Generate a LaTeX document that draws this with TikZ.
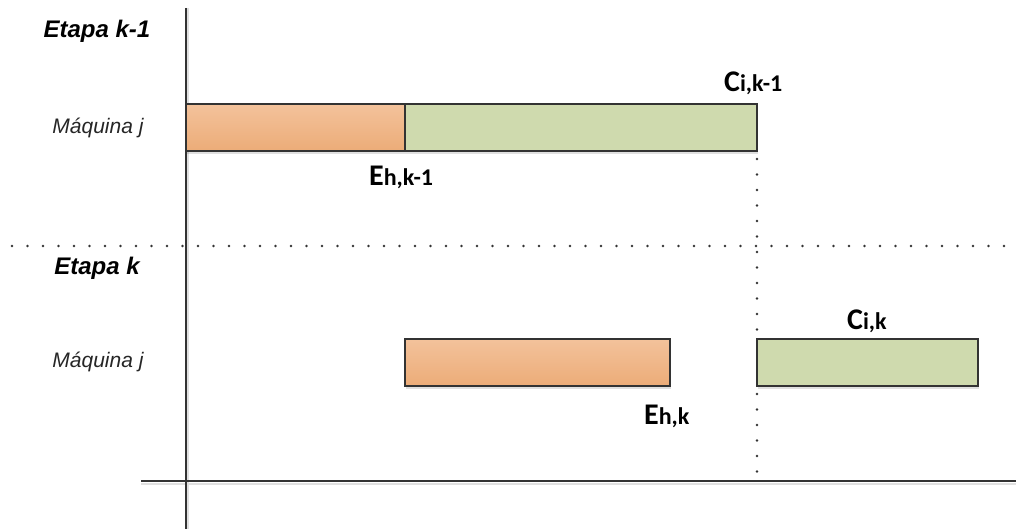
\documentclass[tikz,border=0pt]{standalone}
\usepackage{fontspec}
\setmainfont{Liberation Sans}
\newfontfamily\calib{Carlito}
\usetikzlibrary{shadows}
\newcommand\timelab[2]{{\calib\bfseries\fontsize{30}{30}\selectfont #1}{\calib\bfseries\fontsize{24}{24}\selectfont #2}}
\definecolor{barline}{HTML}{333333}
\definecolor{orangetop}{HTML}{F3C29B}
\definecolor{orangebot}{HTML}{ECAC78}
\definecolor{greenfill}{HTML}{CFDAAE}
\begin{document}
\begin{tikzpicture}[x=1pt,y=-1pt,
  axis/.style={line width=2.2pt, draw=barline},
  axisshadow/.style={line width=2pt, draw=black!12},
  dotline/.style={line width=2.6pt, draw=black!80, dash pattern=on 0pt off 15.5pt, line cap=round},
  bar/.style={draw=barline, line width=2pt, minimum height=47pt, inner sep=0pt, outer sep=0pt,
    anchor=north west, drop shadow={shadow xshift=1pt, shadow yshift=-3pt, opacity=0.12, fill=black}},
  obar/.style={bar, top color=orangetop, bottom color=orangebot},
  gbar/.style={bar, fill=greenfill},
  stage/.style={font=\fontsize{24}{24}\selectfont\bfseries\itshape, inner sep=0pt},
  machine/.style={font=\fontsize{21}{21}\selectfont\itshape, text=black!85, inner sep=0pt},
  tlab/.style={anchor=base west, inner sep=0pt}
]
\useasboundingbox (0,0) rectangle (1016,529);

% axis end points and guide points
\coordinate (vtop) at (186,8);
\coordinate (vbot) at (186,529);
\coordinate (hleft) at (141,481);
\coordinate (hright) at (1016,481);
\coordinate (sepl) at (12,246);
\coordinate (sepr) at (1016,246);
\coordinate (cbot) at (757,481);

% soft shadows of the axes, kept behind everything
\draw[axisshadow] ([xshift=2pt]vtop) -- ([xshift=2pt]vbot);
\draw[axisshadow] ([yshift=-3pt]hleft) -- ([yshift=-3pt]hright);

% stage separator
\draw[dotline] (sepl) -- (sepr);

% stage k-1 bars
\node[obar, minimum width=219pt] (o1) at (186,104) {};
\node[gbar, minimum width=352pt] (g1) at (405,104) {};
% stage k bars
\node[obar, minimum width=265pt] (o2) at (405,339) {};
\node[gbar, minimum width=221pt] (g2) at (757,339) {};

% completion time guide
\draw[dotline] ([yshift=-8pt]g1.south east) -- (g2.north west);
\draw[dotline] ([yshift=-8pt]g2.south west) -- (cbot);

% axes
\draw[axis] (vtop) -- (vbot);
\draw[axis] (hleft) -- (hright);

% row labels
\node[stage] (s1) at (97,31) {Etapa k-1};
\node[machine] (m1) at (98,128) {Máquina j};
\node[stage] (s2) at (97,268) {Etapa k};
\node[machine] (m2) at (98,362) {Máquina j};

% time labels
\node[tlab] (c1) at (724,92) {\timelab{C}{i,k-1}};
\node[tlab] (e1) at (369,186) {\timelab{E}{h,k-1}};
\node[tlab] (c2) at (847,329) {\timelab{C}{i,k}};
\node[tlab] (e2) at (644,424) {\timelab{E}{h,k}};
\end{tikzpicture}
\end{document}
